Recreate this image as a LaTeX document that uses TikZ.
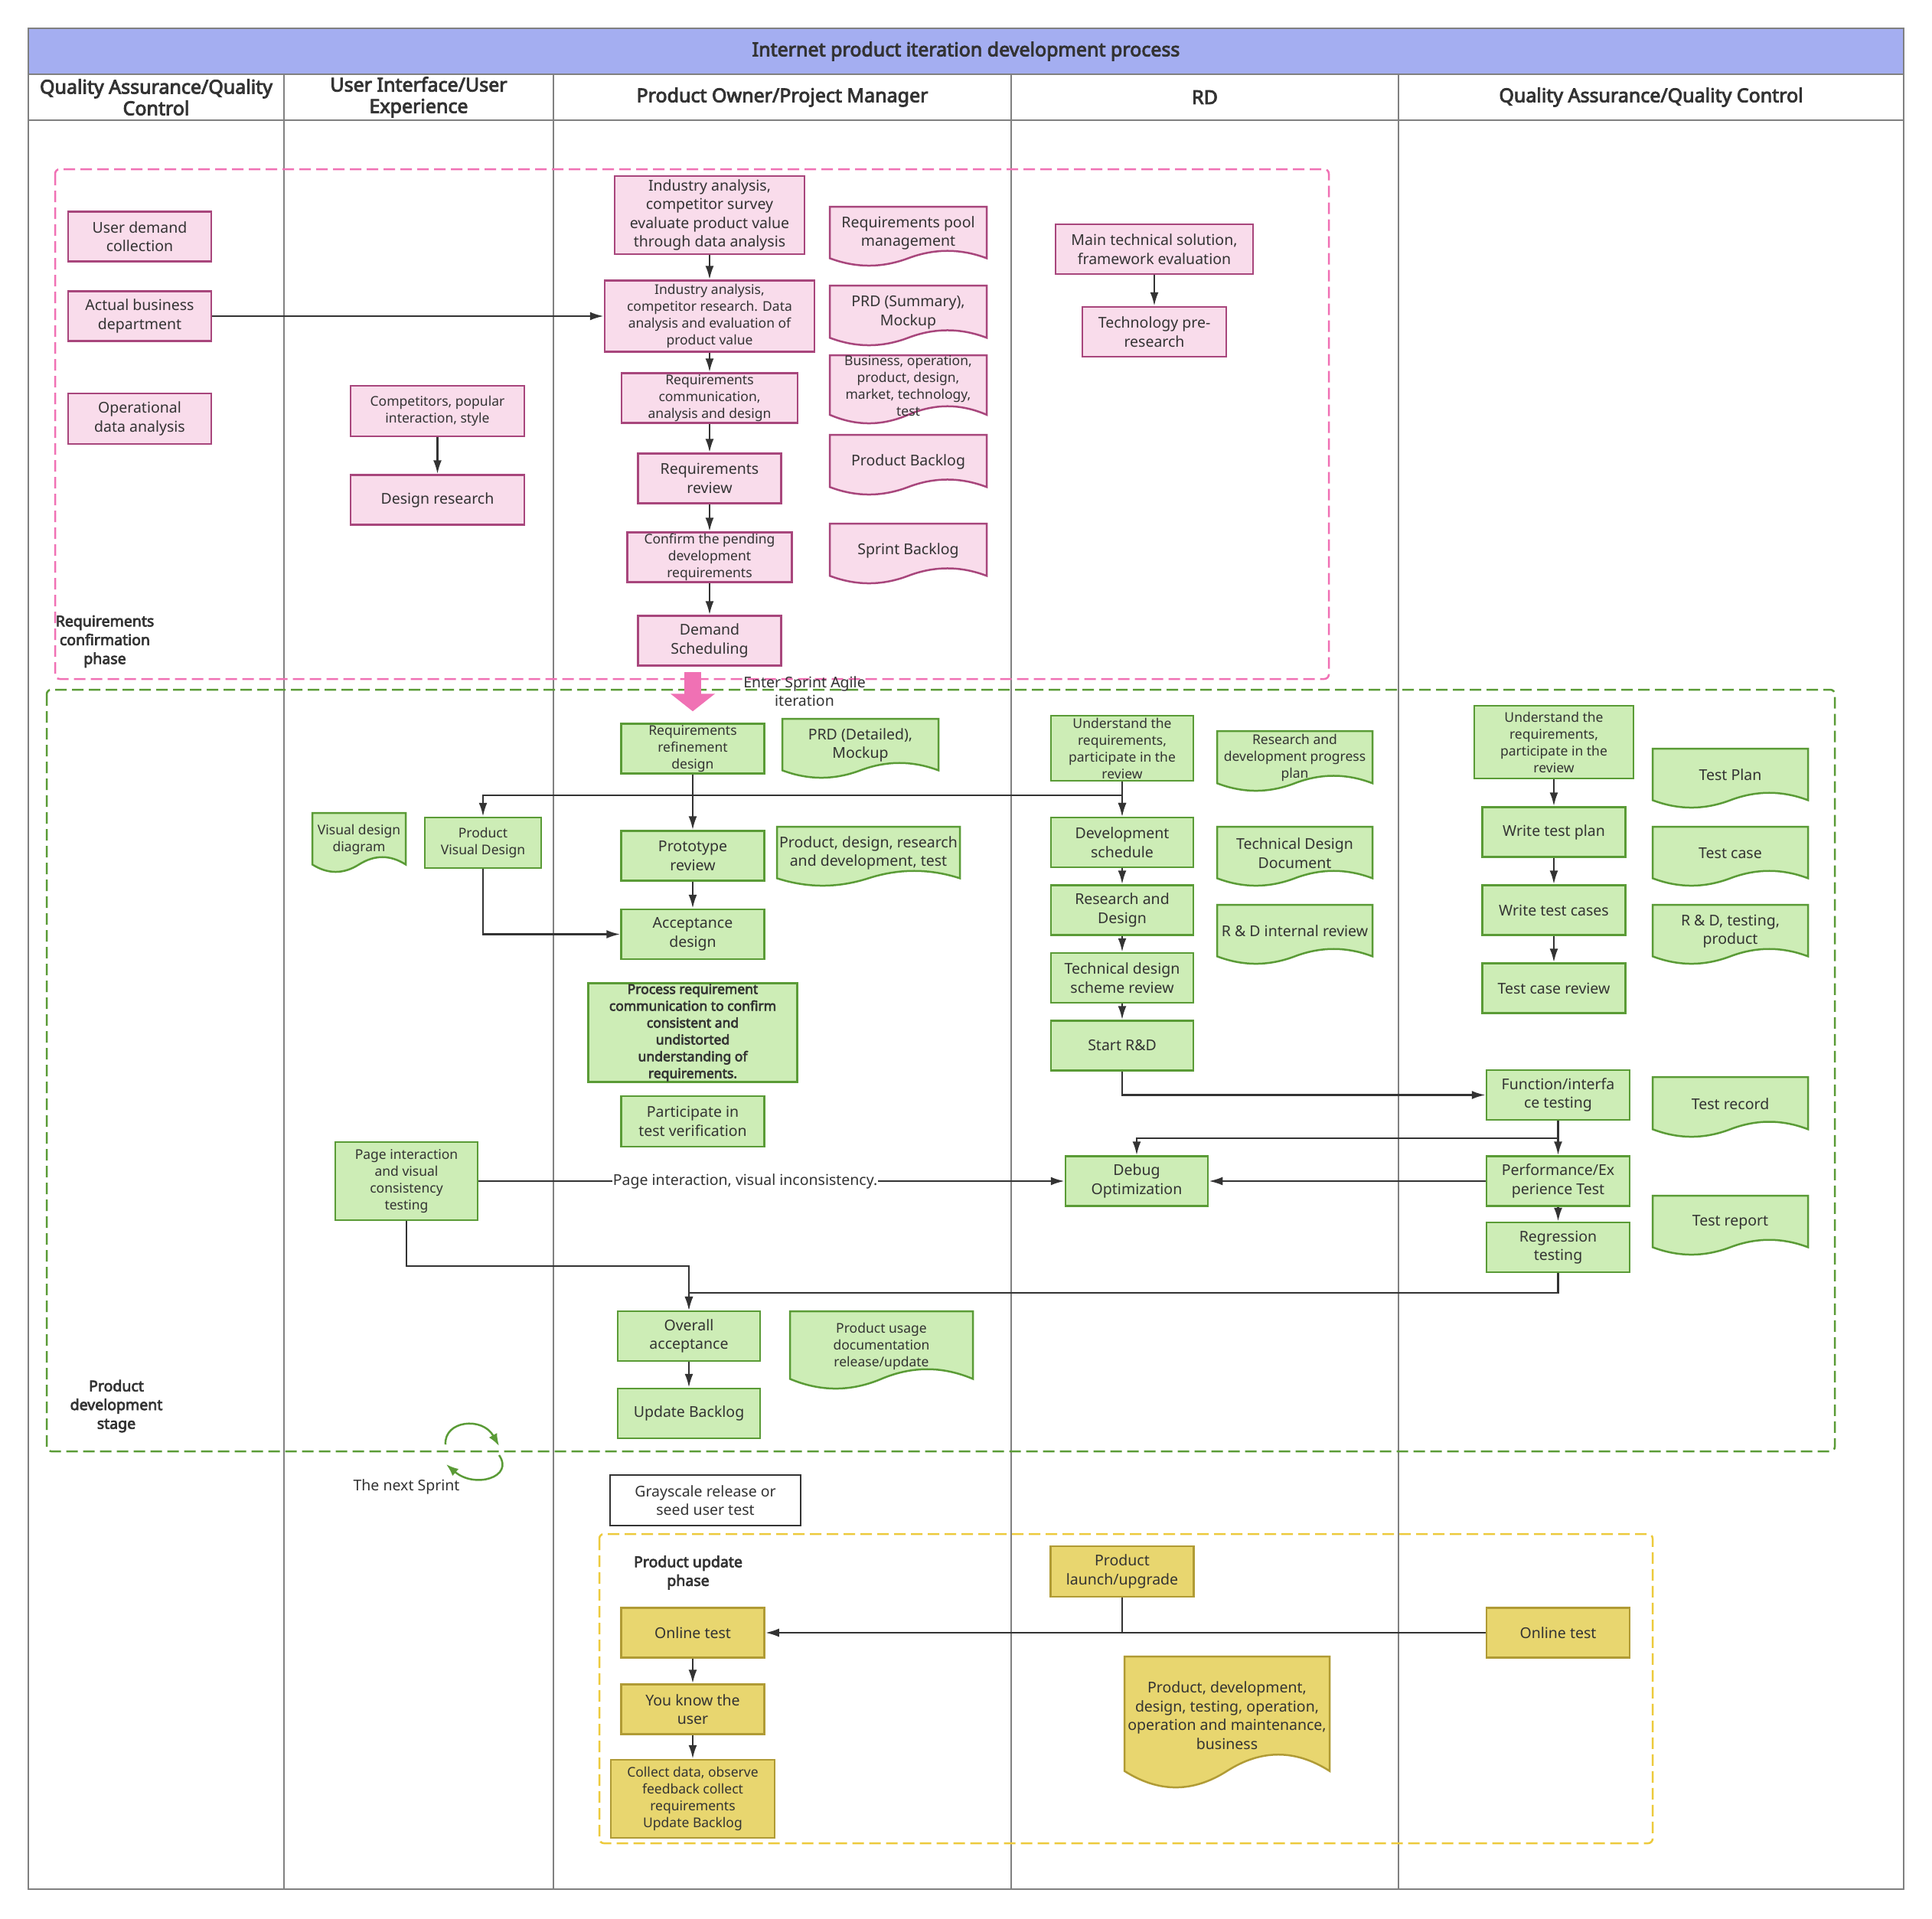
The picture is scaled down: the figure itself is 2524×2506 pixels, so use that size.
\documentclass[tikz,border=0pt]{standalone}
\usepackage{fontspec}
\setmainfont{Noto Sans}[AutoFakeBold=3.5]
\usepackage{tikz}
\usetikzlibrary{arrows.meta,calc}

\definecolor{pinkfill}{HTML}{F9DCEB}
\definecolor{pinkline}{HTML}{A8467C}
\definecolor{pinkdash}{HTML}{F071B4}
\definecolor{greenfill}{HTML}{CDEDB6}
\definecolor{greenline}{HTML}{5A9B36}
\definecolor{yellowfill}{HTML}{E8D66F}
\definecolor{yellowline}{HTML}{B09B35}
\definecolor{yellowdash}{HTML}{EDCA3C}
\definecolor{titleblue}{HTML}{A4AEF1}
\definecolor{laneline}{HTML}{808080}
\definecolor{ink}{HTML}{333333}

\newcommand{\normalsz}{\fontsize{19.5}{24.5}\selectfont}
\newcommand{\smallsz}{\fontsize{17.5}{22}\selectfont}
\newcommand{\headsz}{\fontsize{25}{28}\selectfont\bfseries}

% document symbol: name, x, y, width, height, style, font, text
\newcommand{\docnode}[8]{%
  \draw[#6] (#2,#3) -- (#2+#4,#3) -- (#2+#4,#3+0.875*#5)
    .. controls (#2+0.833*#4,#3+0.708*#5) and (#2+0.667*#4,#3+0.708*#5) .. (#2+0.5*#4,#3+0.875*#5)
    .. controls (#2+0.333*#4,#3+1.042*#5) and (#2+0.167*#4,#3+1.042*#5) .. (#2,#3+0.875*#5) -- cycle;
  \node[align=center, text=ink, font=#7] (#1) at (#2+0.5*#4,#3+0.45*#5) {#8};}

\begin{document}
\begin{tikzpicture}[x=1pt,y=-1pt]
\tikzstyle{pinkbox}=[draw=pinkline, fill=pinkfill, line width=2.5pt, align=center, text=ink, font=\normalsz, inner sep=1pt, minimum width=187pt, minimum height=65pt]
\tikzstyle{greenbox}=[pinkbox, draw=greenline, fill=greenfill]
\tikzstyle{yellowbox}=[pinkbox, draw=yellowline, fill=yellowfill]
\tikzstyle{pinkdoc}=[draw=pinkline, fill=pinkfill, line width=2.5pt]
\tikzstyle{greendoc}=[draw=greenline, fill=greenfill, line width=2.5pt]
\tikzstyle{yellowdoc}=[draw=yellowline, fill=yellowfill, line width=2.5pt]
\tikzstyle{conn}=[draw=ink, line width=2.5pt, -{Latex[length=18pt,width=11pt]}]
\tikzstyle{link}=[draw=ink, line width=2.5pt]
\tikzstyle{phase}=[align=center, text=ink, font=\normalsz\bfseries]
\tikzstyle{note}=[align=center, text=ink, font=\normalsz]
\tikzstyle{lane}=[draw=laneline, line width=1.8pt]
\tikzstyle{area}=[line width=2.5pt, dash pattern=on 15pt off 7pt, rounded corners=6pt]
\tikzstyle{sprintarc}=[draw=greenline, line width=2.5pt, -{Latex[length=16pt,width=12pt]}]

\useasboundingbox (0,0) rectangle (2524,2506);
\fill[white] (0,0) rectangle (2524,2506);

% swimlanes
\draw[lane] (37,97) rectangle (2487,2468);
\draw[lane] (37,157) -- (2487,157);
\foreach \lx in {371,723,1321,1827}
  \draw[lane] (\lx,97) -- (\lx,2468);
\node[draw=laneline, fill=titleblue, line width=2pt, minimum width=2450pt, minimum height=60pt, font=\headsz, text=ink] (title) at (1262,67) {Internet product iteration development process};
\node[font=\headsz, text=ink, align=center] (h1) at (204,127) {Quality Assurance/Quality\\Control};
\node[font=\headsz, text=ink, align=center] (h2) at (547,127) {User Interface/User\\Experience};
\node[font=\headsz, text=ink, align=center] (h3) at (1022,127) {Product Owner/Project Manager};
\node[font=\headsz, text=ink, align=center] (h4) at (1574,127) {RD};
\node[font=\headsz, text=ink, align=center] (h5) at (2157,127) {Quality Assurance/Quality Control};

% phase areas
\draw[area, draw=pinkdash] (72,221) rectangle (1736,887);
\draw[area, draw=greenline] (61,901) rectangle (2397,1896);
\draw[area, draw=yellowdash] (783,2004) rectangle (2159,2408);

% requirements confirmation phase
\node (userdemand) at (182.5,309) [pinkbox] {User demand\\collection};
\node (actualbiz) at (182.5,413) [pinkbox] {Actual business\\department};
\node (opdata) at (182.5,547) [pinkbox, minimum height=66pt] {Operational\\data analysis};
\node (competitors) at (571.5,537) [pinkbox, font=\smallsz, minimum width=227pt, minimum height=66pt] {Competitors, popular\\interaction, style};
\node (designres) at (571.5,653) [pinkbox, minimum width=227pt] {Design research};
\node (ind1) at (927,281) [pinkbox, minimum width=248pt, minimum height=102pt] {Industry analysis,\\competitor survey\\evaluate product value\\through data analysis};
\node (ind2) at (927,413) [pinkbox, font=\smallsz, minimum width=274pt, minimum height=93pt] {Industry analysis,\\competitor research. Data\\analysis and evaluation of\\product value};
\node (reqcomm) at (927,520) [pinkbox, font=\smallsz, minimum width=230pt] {Requirements\\communication,\\analysis and design};
\node (reqreview) at (927,625) [pinkbox] {Requirements\\review};
\node (confirm) at (927,728) [pinkbox, font=\smallsz, minimum width=215pt] {Confirm the pending\\development\\requirements};
\node (demand) at (927,837) [pinkbox] {Demand\\Scheduling};
\node (maintech) at (1508,325.5) [pinkbox, minimum width=258pt] {Main technical solution,\\framework evaluation};
\node (techpre) at (1508,433.5) [pinkbox, minimum width=188pt] {Technology pre-\\research};
\docnode{reqpool}{1084}{270}{205}{77}{pinkdoc}{\normalsz}{Requirements pool\\management}
\docnode{prdsum}{1084}{373}{205}{78}{pinkdoc}{\normalsz}{PRD (Summary),\\Mockup}
\docnode{business}{1084}{464}{205}{89}{pinkdoc}{\smallsz}{Business, operation,\\product, design,\\market, technology,\\test}
\docnode{prodback}{1084}{568}{205}{78}{pinkdoc}{\normalsz}{Product Backlog}
\docnode{sprintback}{1084}{684}{205}{78}{pinkdoc}{\normalsz}{Sprint Backlog}
\node (reqphase) at (137,838) [phase] {Requirements\\confirmation\\phase};

\draw[conn] (ind1) -- (ind2);
\draw[conn] (actualbiz) -- (ind2);
\draw[conn] (ind2) -- (reqcomm);
\draw[conn] (reqcomm) -- (reqreview);
\draw[conn] (reqreview) -- (confirm);
\draw[conn] (confirm) -- (demand);
\draw[conn] (competitors) -- (designres);
\draw[conn] (maintech) -- (techpre);

% product development stage
\node (refine) at (905,978) [greenbox, font=\smallsz] {Requirements\\refinement\\design};
\node (pvd) at (631,1101) [greenbox, font=\smallsz, minimum width=152pt, minimum height=66pt] {Product\\Visual Design};
\node (prototype) at (905,1118) [greenbox] {Prototype\\review};
\node (accept) at (905,1220.5) [greenbox] {Acceptance\\design};
\node (process) at (905,1349) [greenbox, font=\smallsz\bfseries, minimum width=273pt, minimum height=118pt] {Process requirement\\communication to confirm\\consistent and\\undistorted\\understanding of\\requirements.};
\node (participate) at (905,1465) [greenbox, minimum height=66pt] {Participate in\\test verification};
\node (pagetest) at (531,1543) [greenbox, font=\smallsz, minimum width=186pt, minimum height=102pt] {Page interaction\\and visual\\consistency\\testing};
\node (rdund) at (1466,977.5) [greenbox, font=\smallsz, minimum width=186pt, minimum height=85pt] {Understand the\\requirements,\\participate in the\\review};
\node (devsch) at (1466,1100.5) [greenbox, minimum width=186pt] {Development\\schedule};
\node (resdesign) at (1466,1189) [greenbox, minimum width=186pt] {Research and\\Design};
\node (techreview) at (1466,1277.5) [greenbox, minimum width=186pt] {Technical design\\scheme review};
\node (startrd) at (1466,1366) [greenbox, minimum width=186pt] {Start R\&D};
\node (debug) at (1485,1543) [greenbox, minimum width=186pt] {Debug\\Optimization};
\node (qaund) at (2030,969.5) [greenbox, font=\smallsz, minimum width=208pt, minimum height=95pt] {Understand the\\requirements,\\participate in the\\review};
\node (writeplan) at (2030,1087) [greenbox] {Write test plan};
\node (writecases) at (2030,1189) [greenbox] {Write test cases};
\node (casereview) at (2030,1291) [greenbox] {Test case review};
\node (functest) at (2035.5,1430.5) [greenbox] {Function/interfa\\ce testing};
\node (perftest) at (2035.5,1543) [greenbox] {Performance/Ex\\perience Test};
\node (regress) at (2035.5,1629.5) [greenbox] {Regression\\testing};
\node (overall) at (900,1745.5) [greenbox, minimum width=186pt] {Overall\\acceptance};
\node (updateback) at (900,1846.5) [greenbox, minimum width=186pt] {Update Backlog};
\docnode{prddet}{1022}{939}{204}{77}{greendoc}{\normalsz}{PRD (Detailed),\\Mockup}
\docnode{visdiag}{408}{1062}{122}{77}{greendoc}{\smallsz}{Visual design\\diagram}
\docnode{pdrdt}{1015}{1080}{239}{77}{greendoc}{\normalsz}{Product, design, research\\and development, test}
\docnode{rdplan}{1590}{955}{203}{78}{greendoc}{\smallsz}{Research and\\development progress\\plan}
\docnode{techdoc}{1590}{1080}{203}{77}{greendoc}{\normalsz}{Technical Design\\Document}
\docnode{rdreview}{1590}{1182}{203}{77}{greendoc}{\normalsz}{R \& D internal review}
\docnode{testplan}{2159}{978}{203}{77}{greendoc}{\normalsz}{Test Plan}
\docnode{testcase}{2159}{1080}{203}{77}{greendoc}{\normalsz}{Test case}
\docnode{rdtp}{2159}{1182}{203}{77}{greendoc}{\normalsz}{R \& D, testing,\\product}
\docnode{testrec}{2159}{1407}{203}{78}{greendoc}{\normalsz}{Test record}
\docnode{testrep}{2159}{1562}{203}{77}{greendoc}{\normalsz}{Test report}
\docnode{usage}{1032}{1713}{239}{101}{greendoc}{\smallsz}{Product usage\\documentation\\release/update}
\node (devstage) at (152,1837) [phase] {Product\\development\\stage};

% enter the sprint
\draw[draw=pinkdash, line width=22pt, -{Triangle[length=23pt,width=57pt]}] ($(refine.north |- demand.south)+(0,7)$) -- ($(refine.north)+(0,-15)$);
\node (entersprint) at (1051,903) [note] {Enter Sprint Agile\\iteration};

\coordinate (split1) at (905,1039);
\coordinate (split2) at (2035.5,1487);
\coordinate (split3) at (2035.5,1689);
\coordinate (split4) at (531,1654);
\draw[conn] (refine) -- (prototype);
\draw[conn] (refine.south) -- (split1) -| (pvd.north);
\draw[conn] (split1) -| (devsch.north);
\draw[conn] (rdund) -- (devsch);
\draw[conn] (pvd.south) |- (accept.west);
\draw[conn] (prototype) -- (accept);
\draw[conn] (devsch) -- (resdesign);
\draw[conn] (resdesign) -- (techreview);
\draw[conn] (techreview) -- (startrd);
\draw[conn] (qaund) -- (writeplan);
\draw[conn] (writeplan) -- (writecases);
\draw[conn] (writecases) -- (casereview);
\draw[conn] (startrd.south) |- (functest.west);
\draw[conn] (functest) -- (perftest);
\draw[conn] (functest.south) -- (split2) -| (debug.north);
\draw[conn] (perftest) -- (debug);
\draw[conn] (pagetest) -- node[note, fill=white, inner sep=1pt, pos=0.455] (mismatch) {Page interaction, visual inconsistency.} (debug);
\draw[conn] (perftest) -- (regress);
\draw[conn] (regress.south) -- (split3) -| (overall.north);
\draw[conn] (pagetest.south) -- (split4) -| (overall.north);
\draw[conn] (overall) -- (updateback);

% next sprint
\coordinate (arcA) at (582,1887);
\coordinate (arcB) at (652,1889);
\coordinate (arcC) at (652,1901);
\coordinate (arcD) at (583,1913);
\draw[sprintarc] (arcA) .. controls (580,1856) and (630,1850) .. (arcB);
\draw[sprintarc] (arcC) .. controls (672,1930) and (620,1945) .. (arcD);
\node (nextsprint) at (531,1942) [note] {The next Sprint};

\node (grayscale) at (921.5,1960) [pinkbox, draw=ink, fill=white, minimum width=249pt, minimum height=66pt] {Grayscale release or\\seed user test};

% product update phase
\node (updphase) at (899,2054.5) [phase] {Product update\\phase};
\node (launch) at (1466,2053) [yellowbox, minimum height=66pt] {Product\\launch/upgrade};
\node (onlineL) at (905,2133) [yellowbox] {Online test};
\node (onlineR) at (2035.5,2133) [yellowbox] {Online test};
\node (youknow) at (905,2233) [yellowbox] {You know the\\user};
\node (collect) at (905,2350) [yellowbox, font=\smallsz, minimum width=214pt, minimum height=102pt] {Collect data, observe\\feedback collect\\requirements\\Update Backlog};
\docnode{bigdoc}{1469}{2164}{268}{171}{yellowdoc}{\normalsz}{Product, development,\\design, testing, operation,\\operation and maintenance,\\business}

\draw[conn] (onlineR) -- (onlineL);
\draw[link] (launch.south) -- (launch.south |- onlineL.east);
\draw[conn] (onlineL) -- (youknow);
\draw[conn] (youknow) -- (collect);
\end{tikzpicture}
\end{document}
